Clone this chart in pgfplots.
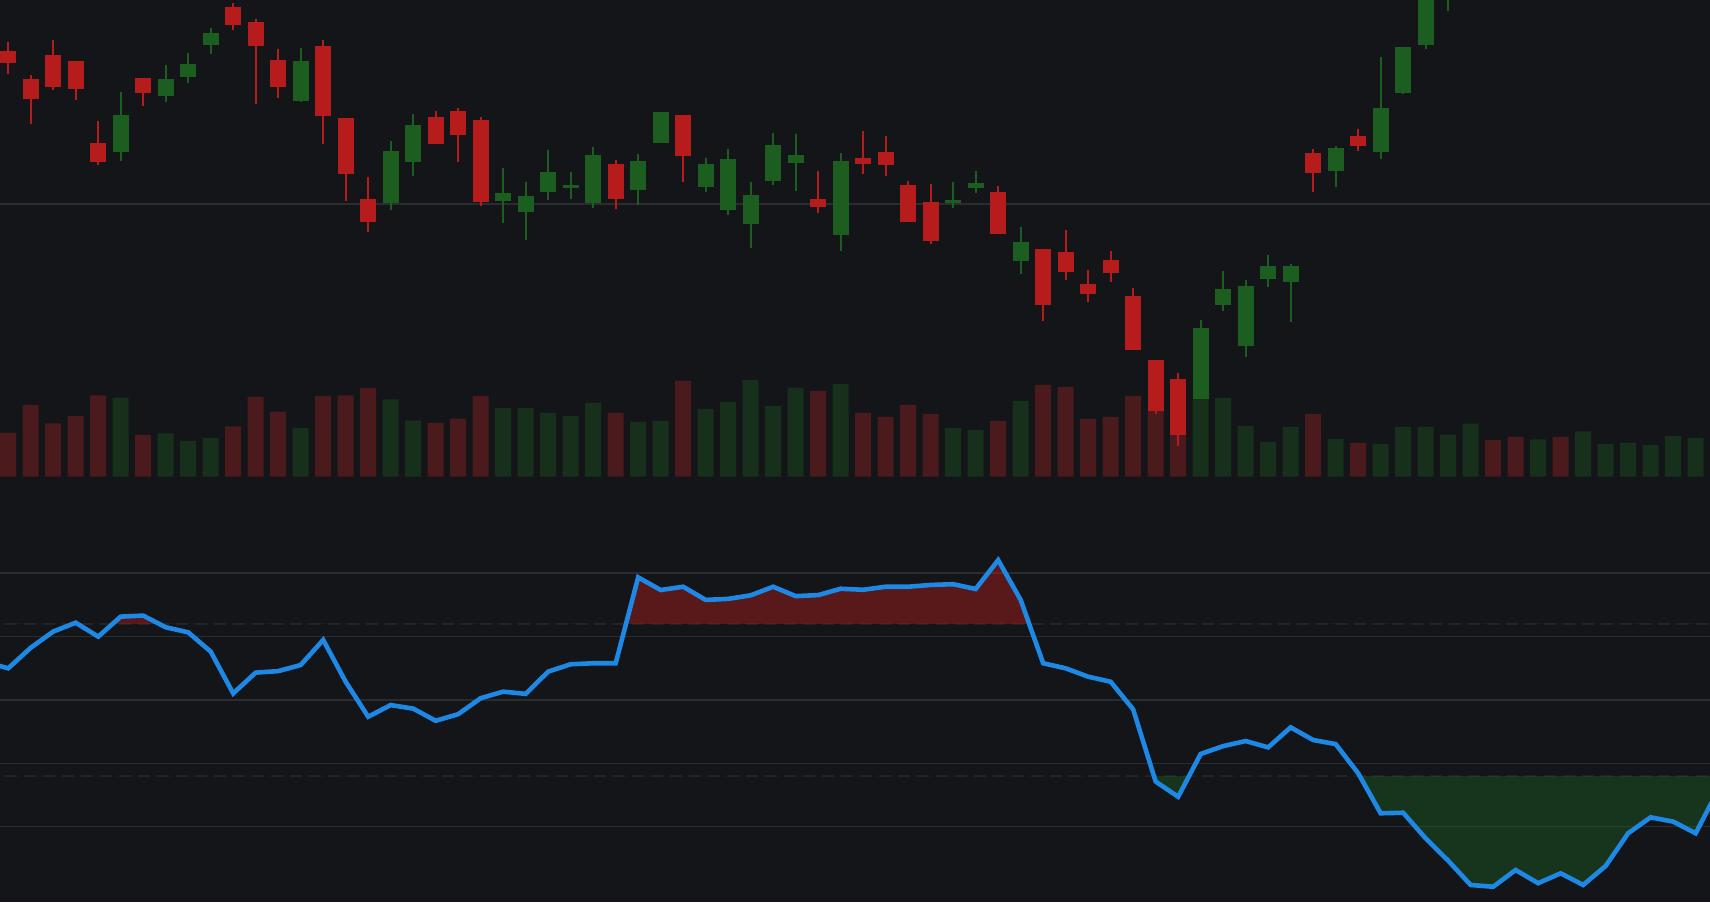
\documentclass[border=0pt]{standalone}
\usepackage{pgfplots}
\pgfplotsset{compat=1.18}
\usepackage{pgfplotstable}

\definecolor{bg}{HTML}{131519}
\definecolor{cred}{HTML}{B71C1C}
\definecolor{cgreen}{HTML}{1B5E20}
\definecolor{vred}{HTML}{4B1A1C}
\definecolor{vgreen}{HTML}{16301C}
\definecolor{gridc}{HTML}{2A2C30}
\definecolor{dashc}{HTML}{212328}
\definecolor{rsiblue}{HTML}{1E88E5}

% red (falling) candles: x open high low close
\pgfplotstableread{
x o h l c
0 90.60 92.40 86.06 88.26
1 85.00 85.80 76.06 80.94
2 89.80 92.80 82.86 83.46
3 88.60 88.60 80.86 82.94
4 72.20 76.60 67.86 68.46
6 85.20 85.20 79.66 82.26
10 99.40 100.20 94.86 95.86
11 96.40 97.00 80.06 91.66
12 88.80 91.00 81.26 83.46
14 91.60 92.80 72.06 77.66
15 77.20 77.20 60.66 65.94
16 61.00 65.40 54.46 56.34
19 77.40 78.60 72.06 72.06
20 78.60 79.20 68.46 73.86
21 76.80 77.40 59.66 60.34
27 68.00 68.80 59.06 61.06
30 77.80 77.80 64.46 69.66
36 61.00 66.60 58.26 59.34
38 69.20 74.60 66.06 68.06
39 70.40 73.60 65.66 67.86
40 63.80 64.60 56.46 56.46
41 60.40 64.00 52.06 52.66
44 62.40 63.60 54.06 54.06
46 51.00 51.00 36.66 39.86
47 50.40 54.80 44.86 46.46
48 44.00 46.80 40.46 42.06
49 48.80 50.60 44.46 46.26
50 41.60 43.20 30.86 30.86
51 28.80 28.80 18.06 18.66
52 25.00 26.20 11.66 13.86
58 70.20 71.00 62.46 66.26
60 73.60 75.00 70.66 71.66
}\redT

% green (rising) candles: x open high low close
\pgfplotstableread{
x o h l c
5 70.46 82.40 68.66 77.80
7 81.66 87.80 80.46 85.00
8 85.46 90.20 84.26 88.00
9 91.86 95.20 90.06 94.20
13 80.66 91.20 80.46 88.60
17 60.26 72.60 58.86 70.60
18 68.46 78.00 65.66 75.80
22 60.66 67.20 56.26 62.20
23 58.46 64.40 52.86 61.60
24 62.46 70.80 60.86 66.40
25 63.26 66.40 61.06 63.80
26 60.26 71.40 59.26 69.80
28 62.86 70.00 59.86 68.60
29 72.26 78.40 72.26 78.40
31 63.46 69.20 62.46 68.00
32 58.86 71.00 57.86 69.00
33 56.06 64.40 51.26 61.80
34 64.66 74.20 63.86 71.80
35 68.26 74.00 62.66 69.80
37 53.86 70.20 50.66 68.60
42 60.14 64.40 59.26 60.80
43 63.26 66.60 62.26 64.20
45 48.66 55.40 46.00 52.40
53 21.06 36.80 21.06 35.20
54 39.86 46.60 38.66 43.00
55 31.66 44.80 29.46 43.60
56 45.06 49.80 43.46 47.60
57 44.46 48.00 36.46 47.60
59 66.66 71.60 63.46 71.20
61 70.46 89.40 69.06 79.20
62 82.26 91.40 82.06 91.40
63 91.86 106.00 91.06 104.00
64 101.80 110.00 98.66 108.00
}\greenT

\pgfplotstableread{
x v
0 437
1 717
2 534
3 607
4 814
6 417
10 504
11 797
12 650
14 807
15 814
16 887
19 537
20 580
21 807
27 637
30 957
36 857
38 637
39 597
40 717
41 627
44 557
46 917
47 897
48 577
49 597
50 807
51 657
52 417
58 627
60 337
66 367
67 397
69 397
}\volR

\pgfplotstableread{
x v
5 790
7 434
8 357
9 387
13 487
17 774
18 560
22 687
23 687
24 637
25 607
26 737
28 547
29 557
31 677
32 747
33 967
34 707
35 890
37 927
42 487
43 467
45 757
53 777
54 787
55 507
56 347
57 497
59 377
61 327
62 497
63 497
64 420
65 530
68 374
70 454
71 327
72 337
73 317
74 407
75 387
}\volG

\pgfplotstableread{
x y
-1 65.0
0 62.5
1 70.6
2 77.0
3 80.5
4 75.0
5 82.9
6 83.3
7 78.7
8 76.7
9 69.1
10 52.6
11 60.8
12 61.4
13 63.8
14 73.7
15 57.2
16 43.4
17 48.0
18 46.6
19 41.8
20 44.4
21 50.7
22 53.3
23 52.4
24 61.2
25 64.1
26 64.5
27 64.5
28 98.4
29 93.4
30 94.7
31 89.5
32 89.9
33 91.3
34 94.7
35 91.0
36 91.4
37 93.9
38 93.5
39 94.7
40 94.7
41 95.4
42 95.7
43 93.8
44 105.2
45 89.5
46 64.5
47 62.5
48 59.2
49 57.2
50 46.3
51 17.8
52 11.8
53 28.7
54 31.8
55 33.8
56 31.3
57 39.2
58 34.2
59 32.6
60 21.1
61 5.3
62 5.5
63 -4.6
64 -13.4
65 -23.0
66 -23.7
67 -17.1
68 -22.3
69 -18.4
70 -23.0
71 -15.5
72 -2.6
73 3.7
74 2.0
75 -2.6
76 14.5
}\rsiT

\pgfplotsset{
  panel/.style={scale only axis, width=1710pt,
    xmin=-0.3644, xmax=75.6356,
    hide axis, anchor=south west, clip=true,
    clip bounding box=upper bound},
  level/.style={gridc, line width=1.6pt, mark=none, forget plot},
  body/.style={draw=none, mark=none,
    error bars/.cd, y dir=both, y explicit, error mark=none,
    error bar style={line width=16pt, draw=#1, solid}},
  wick/.style={draw=none, mark=none,
    error bars/.cd, y dir=both, y explicit, error mark=none,
    error bar style={line width=2.2pt, draw=#1, solid}},
}

\begin{document}
\begin{tikzpicture}
\fill[bg] (0pt,0pt) rectangle (1710pt,902pt);

% volume
\begin{axis}[panel, at={(0pt,425.3pt)}, height=476.7pt, ymin=0, ymax=4767]
\addplot[ybar, bar width=16pt, bar shift=0pt, fill=vred, draw=none] table[x=x,y=v] {\volR};
\addplot[ybar, bar width=16pt, bar shift=0pt, fill=vgreen, draw=none] table[x=x,y=v] {\volG};
\end{axis}

% price candles
\begin{axis}[panel, at={(0pt,425.3pt)}, height=476.7pt, ymin=5.46, ymax=100.8]
\addplot[level] coordinates {(-1,60) (77,60)};
\addplot[wick=cred] table[x=x, y expr={(\thisrow{h}+\thisrow{l})/2}, y error expr={(\thisrow{h}-\thisrow{l})/2}] {\redT};
\addplot[wick=cgreen] table[x=x, y expr={(\thisrow{h}+\thisrow{l})/2}, y error expr={(\thisrow{h}-\thisrow{l})/2}] {\greenT};
\addplot[body=cred] table[x=x, y expr={(\thisrow{o}+\thisrow{c})/2}, y error expr={abs(\thisrow{c}-\thisrow{o})/2}] {\redT};
\addplot[body=cgreen] table[x=x, y expr={(\thisrow{o}+\thisrow{c})/2}, y error expr={abs(\thisrow{c}-\thisrow{o})/2}] {\greenT};
\end{axis}

% oscillator: levels
\begin{axis}[panel, at={(0pt,0pt)}, height=422pt, ymin=-29.72, ymax=136.82]
\addplot[level] coordinates {(-1,100) (77,100)};
\addplot[level] coordinates {(-1,75) (77,75)};
\addplot[level] coordinates {(-1,50) (77,50)};
\addplot[level] coordinates {(-1,25) (77,25)};
\addplot[level] coordinates {(-1,0) (77,0)};
\addplot[dashc, line width=2.6pt, dash pattern=on 12pt off 7pt] coordinates {(-1,80) (77,80)};
\addplot[dashc, line width=2.6pt, dash pattern=on 12pt off 7pt] coordinates {(-1,20) (77,20)};
\end{axis}

% oscillator: area above 80 (axis starts at the 80 level)
\begin{axis}[panel, at={(0pt,278.03pt)}, height=143.97pt, ymin=80, ymax=136.82]
\addplot[fill=cred, fill opacity=0.43, draw=none] table[x=x,y=y] {\rsiT} \closedcycle;
\end{axis}

% oscillator: area below 20 (reversed axis hanging from the 20 level)
\begin{axis}[panel, at={(0pt,0pt)}, height=125.99pt, ymin=0, ymax=49.72, y dir=reverse]
\addplot[fill=cgreen, fill opacity=0.45, draw=none] table[x=x, y expr={20-\thisrow{y}}] {\rsiT} \closedcycle;
\end{axis}

% oscillator: line
\begin{axis}[panel, at={(0pt,0pt)}, height=422pt, ymin=-29.72, ymax=136.82]
\addplot[rsiblue, line width=4.6pt, mark=none] table[x=x,y=y] {\rsiT};
\end{axis}
\end{tikzpicture}
\end{document}
